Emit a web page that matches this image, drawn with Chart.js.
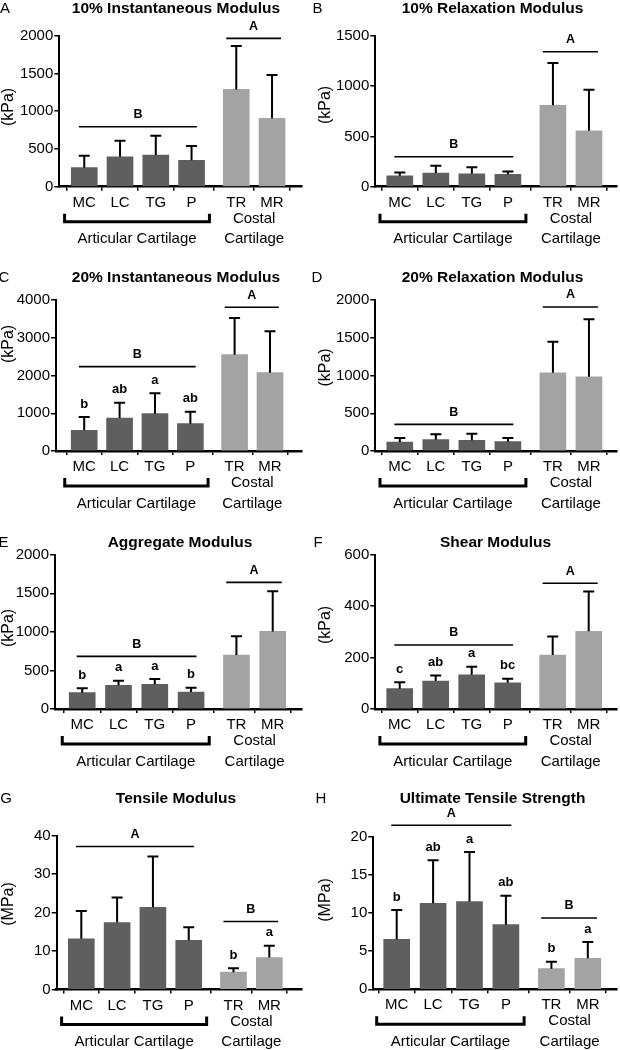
<!DOCTYPE html>
<html>
<head>
<meta charset="utf-8">
<script src="https://cdn.jsdelivr.net/npm/chart.js@4.4.1/dist/chart.umd.min.js"></script>
<style>
body{margin:0;background:#fff;}
#fig{position:relative;width:620px;height:1050px;}
#fig canvas{position:absolute;}
</style>
</head>
<body>
<div id="fig">
<canvas id="pA" width="310" height="260" style="left:0;top:0"></canvas>
<canvas id="pB" width="310" height="260" style="left:310px;top:0"></canvas>
<canvas id="pC" width="310" height="260" style="left:0;top:260px"></canvas>
<canvas id="pD" width="310" height="260" style="left:310px;top:260px"></canvas>
<canvas id="pE" width="310" height="260" style="left:0;top:520px"></canvas>
<canvas id="pF" width="310" height="260" style="left:310px;top:520px"></canvas>
<canvas id="pG" width="310" height="270" style="left:0;top:780px"></canvas>
<canvas id="pH" width="310" height="270" style="left:310px;top:780px"></canvas>
</div>
<script>
// groups: 4 articular sites + 2 costal sites
const categories = ['MC', 'LC', 'TG', 'P', 'TR', 'MR'];
const xPositions = [0, 1, 2, 3, 4.25, 5.25];

// mean and SD for each property (kPa unless noted)
const inst10Mean = [252, 397, 419, 349, 1289, 905];
const inst10Sd   = [158, 212, 256, 190, 574, 574];
const relax10Mean = [109, 136, 129, 123, 808, 556];
const relax10Sd   = [33, 73, 63, 29, 420, 408];
const inst20Mean = [547, 874, 989, 724, 2552, 2075];
const inst20Sd   = [354, 406, 539, 318, 971, 1095];
const relax20Mean = [119, 150, 141, 124, 1037, 984];
const relax20Sd   = [53, 71, 89, 48, 411, 760];
const aggMean = [212, 307, 320, 220, 700, 1006];
const aggSd   = [56, 60, 69, 56, 242, 519];
const shearMean = [79, 109, 133, 102, 210, 302];
const shearSd   = [25, 21, 31, 16, 72, 155];
const tensMean = [13.2, 17.4, 21.4, 12.8, 4.5, 8.3];   // MPa
const tensSd   = [7.2, 6.5, 13.2, 3.4, 1.0, 3.1];
const utsMean = [6.55, 11.27, 11.5, 8.47, 2.7, 4.06];  // MPa
const utsSd   = [3.85, 5.63, 6.5, 3.8, 0.9, 2.14];

// letters over bars
const inst20Marks = ['b', 'ab', 'a', 'ab', '', ''];
const aggMarks = ['b', 'a', 'a', 'b', '', ''];
const shearMarks = ['c', 'ab', 'a', 'bc', '', ''];
const tensMarks = ['', '', '', '', 'b', 'a'];
const utsMarks = ['b', 'ab', 'a', 'ab', 'b', 'a'];

const FONT = "'Liberation Sans', Arial, Helvetica, sans-serif";
const DARK = '#5f5f5f', LIGHT = '#a3a3a3';

const panels = [
  {id:'pA', letter:'A', title:'10% Instantaneous Modulus', unit:'(kPa)', mean:inst10Mean, sd:inst10Sd, ymax:2000, step:500,
   sig:[['B', 795], ['A', 1965]], area:[59.3, 35.7, 302, 186.7], xr:[-0.698, 6.088], titleAt:[176, 9], letterAt:[5, 9], unitAt:[8.5, 107]},
  {id:'pB', letter:'B', title:'10% Relaxation Modulus', unit:'(kPa)', mean:relax10Mean, sd:relax10Sd, ymax:1500, step:500,
   sig:[['B', 298], ['A', 1341]], area:[65.3, 35.7, 306.7, 186.7], xr:[-0.68, 6.02], titleAt:[182.5, 9], letterAt:[7.5, 9], unitAt:[15.8, 105]},
  {id:'pC', letter:'C', title:'20% Instantaneous Modulus', unit:'(kPa)', mean:inst20Mean, sd:inst20Sd, marks:inst20Marks, ymax:4000, step:1000,
   sig:[['B', 2234], ['A', 3806]], area:[56, 40, 301.7, 191], xr:[-0.797, 6.146], titleAt:[176, 18], letterAt:[4, 18], unitAt:[8.5, 84]},
  {id:'pD', letter:'D', title:'20% Relaxation Modulus', unit:'(kPa)', mean:relax20Mean, sd:relax20Sd, ymax:2000, step:500,
   sig:[['B', 353], ['A', 1908]], area:[65.3, 40, 306.7, 191], xr:[-0.68, 6.02], titleAt:[182.5, 18], letterAt:[7, 18], unitAt:[15.8, 107.5]},
  {id:'pE', letter:'E', title:'Aggregate Modulus', unit:'(kPa)', mean:aggMean, sd:aggSd, marks:aggMarks, ymax:2000, step:500,
   sig:[['B', 682], ['A', 1641]], area:[55, 34.7, 302, 189], xr:[-0.75, 6.057], titleAt:[180, 23], letterAt:[3.5, 23], unitAt:[8.5, 108]},
  {id:'pF', letter:'F', title:'Shear Modulus', unit:'(kPa)', mean:shearMean, sd:shearSd, marks:shearMarks, ymax:600, step:200,
   sig:[['B', 249], ['A', 489]], area:[65.3, 34.7, 306.7, 189], xr:[-0.678, 6.028], titleAt:[185.5, 23], letterAt:[8, 23], unitAt:[15.8, 105]},
  {id:'pG', letter:'G', title:'Tensile Modulus', unit:'(MPa)', mean:tensMean, sd:tensSd, marks:tensMarks, ymax:40, step:10,
   sig:[['A', 37.2], ['B', 17.7]], area:[56.7, 55.7, 301.7, 209.5], xr:[-0.687, 6.155], titleAt:[176, 19], letterAt:[6, 19], unitAt:[8.8, 124]},
  {id:'pH', letter:'H', title:'Ultimate Tensile Strength', unit:'(MPa)', mean:utsMean, sd:utsSd, marks:utsMarks, ymax:20, step:5,
   sig:[['A', 21.5], ['B', 9.35]], area:[63.3, 56.7, 306.7, 209.3], xr:[-0.643, 6.044], titleAt:[182.5, 19], letterAt:[11, 19], unitAt:[15.8, 120]}
];

function makeAnnot(p) {
  return {
    id: 'annot_' + p.id,
    afterDraw(chart) {
      const ctx = chart.ctx, xs = chart.scales.x, ys = chart.scales.y;
      const base = chart.chartArea.bottom;
      ctx.save();
      ctx.strokeStyle = '#000';
      ctx.fillStyle = '#000';
      ctx.textAlign = 'center';
      ctx.textBaseline = 'middle';

      // error bars (upper only) and letters
      ctx.lineWidth = 2;
      p.mean.forEach((m, i) => {
        const cx = xs.getPixelForValue(xPositions[i]);
        const y0 = ys.getPixelForValue(m);
        const y1 = ys.getPixelForValue(m + p.sd[i]);
        ctx.beginPath();
        ctx.moveTo(cx, y0); ctx.lineTo(cx, y1);
        ctx.moveTo(cx - 5.5, y1); ctx.lineTo(cx + 5.5, y1);
        ctx.stroke();
        if (p.marks && p.marks[i]) {
          ctx.font = 'bold 13px ' + FONT;
          ctx.fillText(p.marks[i], cx, y1 - 13);
        }
      });

      // group significance lines
      const spans = [[-0.15, 3.15], [3.97, 5.5]];
      ctx.lineWidth = 1.6;
      ctx.font = 'bold 12.5px ' + FONT;
      p.sig.forEach(([txt, lvl], k) => {
        const xa = xs.getPixelForValue(spans[k][0]), xb = xs.getPixelForValue(spans[k][1]);
        const yy = ys.getPixelForValue(lvl);
        ctx.beginPath(); ctx.moveTo(xa, yy); ctx.lineTo(xb, yy); ctx.stroke();
        ctx.fillText(txt, (xa + xb) / 2, yy - 12);
      });

      // bracket under articular sites
      const bl = xs.getPixelForValue(-0.55), br = xs.getPixelForValue(3.5);
      ctx.lineWidth = 3;
      ctx.beginPath();
      ctx.moveTo(bl, base + 27); ctx.lineTo(bl, base + 35);
      ctx.lineTo(br, base + 35); ctx.lineTo(br, base + 27);
      ctx.stroke();
      ctx.font = '15px ' + FONT;
      ctx.fillText('Articular Cartilage', (bl + br) / 2, base + 52.5);
      const cc = xs.getPixelForValue((xPositions[4] + xPositions[5]) / 2);
      ctx.fillText('Costal', cc, base + 32);
      ctx.fillText('Cartilage', cc, base + 52.5);

      // title, panel letter, unit
      ctx.font = 'bold 15.5px ' + FONT;
      ctx.fillText(p.title, p.titleAt[0], p.titleAt[1]);
      ctx.font = '15px ' + FONT;
      ctx.fillText(p.letter, p.letterAt[0], p.letterAt[1]);
      ctx.save();
      ctx.translate(p.unitAt[0], p.unitAt[1]);
      ctx.rotate(-Math.PI / 2);
      ctx.font = '16px ' + FONT;
      ctx.fillText(p.unit, 0, 0);
      ctx.restore();
      ctx.restore();
    }
  };
}

panels.forEach(p => {
  const cv = document.getElementById(p.id);
  const W = cv.width, H = cv.height;
  const [left, top, right, bottom] = p.area;
  new Chart(cv, {
    type: 'bar',
    data: {
      datasets: [{
        data: categories.map((c, i) => ({x: xPositions[i], y: p.mean[i]})),
        backgroundColor: categories.map((c, i) => i < 4 ? DARK : LIGHT),
        barThickness: 26,
        borderWidth: 0
      }]
    },
    options: {
      responsive: false,
      animation: false,
      layout: {padding: {top: top, right: W - right, left: 0, bottom: 0}},
      plugins: {legend: {display: false}, tooltip: {enabled: false}},
      scales: {
        x: {
          type: 'linear', min: p.xr[0], max: p.xr[1], offset: false,
          grid: {display: true, drawOnChartArea: false, tickLength: 4, color: '#000', lineWidth: 1.5},
          border: {display: true, color: '#000', width: 2.5},
          afterBuildTicks: s => { s.ticks = xPositions.map(v => ({value: v})); },
          ticks: {
            autoSkip: false, maxRotation: 0, padding: 3, color: '#000',
            font: {family: FONT, size: 15},
            callback: (v, i) => categories[i]
          },
          afterFit: s => { s.height = H - bottom; }
        },
        y: {
          min: 0, max: p.ymax,
          grid: {display: true, drawOnChartArea: false, tickLength: 5, color: '#000', lineWidth: 1.5},
          border: {display: true, color: '#000', width: 2},
          ticks: {stepSize: p.step, padding: 1, color: '#000', font: {family: FONT, size: 15},
                  callback: v => String(v)},
          afterFit: s => { s.width = left; }
        }
      }
    },
    plugins: [makeAnnot(p)]
  });
});
</script>
</body>
</html>
